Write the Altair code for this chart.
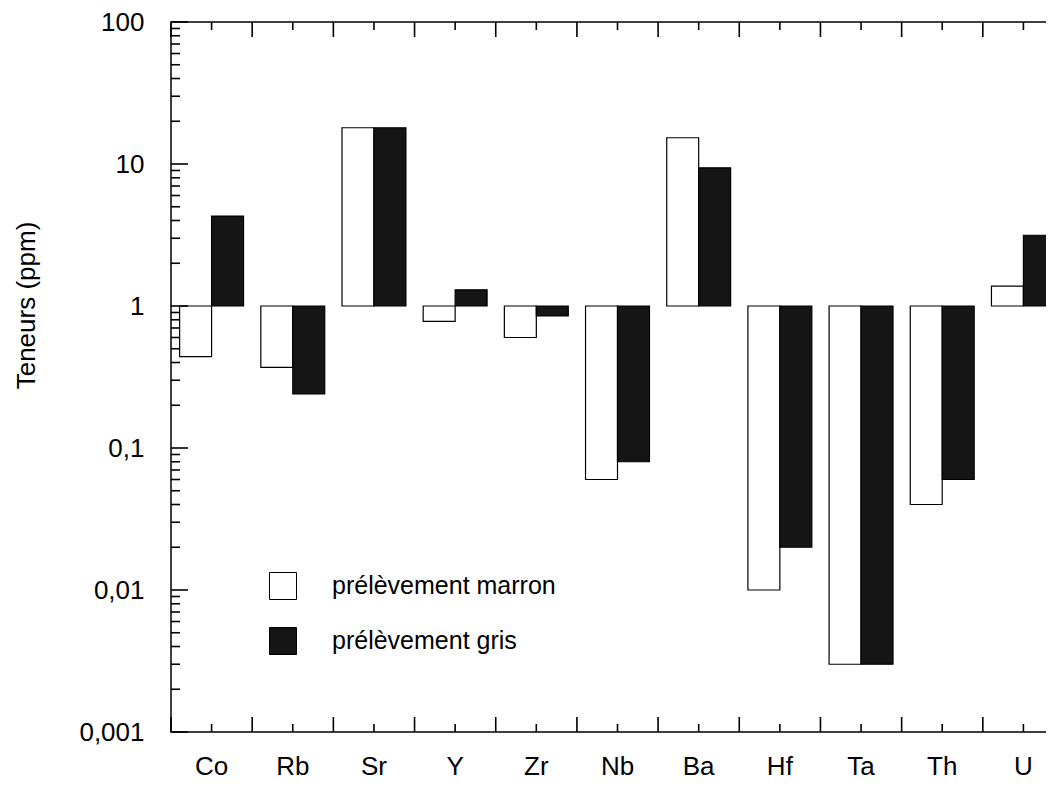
import math
import altair as alt
import pandas as pd

# ---- data ----
elements = ["Co", "Rb", "Sr", "Y", "Zr", "Nb", "Ba", "Hf", "Ta", "Th", "U"]
marron = [0.44, 0.37, 18.0, 0.78, 0.60, 0.060, 15.3, 0.010, 0.003, 0.040, 1.38]
gris = [4.3, 0.24, 18.0, 1.30, 0.85, 0.080, 9.4, 0.020, 0.003, 0.060, 3.15]
series = ["prélèvement marron", "prélèvement gris"]
colors = ["white", "#151515"]
y_ticks = [0.001, 0.01, 0.1, 1, 10, 100]
y_tick_labels = ["0,001", "0,01", "0,1", "1", "10", "100"]
y_minor = [m * d for d in y_ticks[:-1] for m in range(2, 10)]

rows = []
for i, el in enumerate(elements):
    rows.append({"element": el, "series": series[0], "value": marron[i]})
    rows.append({"element": el, "series": series[1], "value": gris[i]})
df = pd.DataFrame(rows)
cat_df = pd.DataFrame({"element": elements})
major_df = pd.DataFrame({"value": y_ticks})
minor_df = pd.DataFrame({"value": y_minor})

W, H = 893, 710
FONT = "Liberation Sans"

# label expression built from the tick label list
expr = "''"
for v, lab in zip(y_ticks, y_tick_labels):
    expr = f"(abs(log(datum.value)/log(10) - ({math.log10(v):.0f})) < 0.01 ? '{lab}' : {expr})"

xscale = alt.Scale(paddingInner=0, paddingOuter=0)
yscale = alt.Scale(type="log", domain=[0.001, 100], nice=False)

bars = alt.Chart(df).mark_bar(stroke="black", strokeWidth=1.2).encode(
    x=alt.X("element:N", sort=elements, scale=xscale,
            axis=alt.Axis(orient="bottom", ticks=False, tickSize=0, domain=False,
                          labelPadding=21, labelFontSize=26, labelAngle=0,
                          title=None, grid=False)),
    xOffset=alt.XOffset("series:N", sort=series,
                        scale=alt.Scale(paddingInner=0, paddingOuter=0.27)),
    y=alt.Y("value:Q", scale=yscale,
            axis=alt.Axis(orient="left", values=y_ticks, labelExpr=expr,
                          ticks=False, tickSize=0, domain=False, grid=False,
                          labelPadding=27, labelFontSize=26,
                          title="Teneurs (ppm)", titleX=-145, titleY=283,
                          titleAngle=270, titleAlign="center",
                          titleBaseline="middle", titleFontSize=26,
                          titleFontWeight="normal")),
    y2=alt.datum(1),
    fill=alt.Fill("series:N", sort=series,
                  scale=alt.Scale(domain=series, range=colors),
                  legend=alt.Legend(title=None, orient="none", legendX=98,
                                    legendY=550, symbolType="square",
                                    symbolSize=729, symbolStrokeColor="black",
                                    symbolStrokeWidth=1, labelFontSize=25,
                                    labelOffset=35, rowPadding=23, padding=0,
                                    labelLimit=0, labelFont=FONT)),
)

TW = 1.6


def ytick(data, x0, x1):
    return alt.Chart(data).mark_rule(color="black", strokeWidth=TW).encode(
        y=alt.Y("value:Q", axis=None),
        x=alt.value(x0), x2=alt.value(x1),
    )


def xtick(band_pos, y0, y1):
    return alt.Chart(cat_df).mark_rule(color="black", strokeWidth=TW).encode(
        x=alt.X("element:N", sort=elements, bandPosition=band_pos, axis=None),
        y=alt.value(y0), y2=alt.value(y1),
    )


layers = [
    bars,
    ytick(major_df, 0, 17), ytick(minor_df, 0, 9),
    ytick(major_df, W, W - 13), ytick(minor_df, W, W - 7),
    xtick(0, H, H - 15), xtick(0.5, H, H - 8),
    xtick(0, 0, 15), xtick(0.5, 0, 8),
]

chart = alt.layer(*layers).resolve_axis(x="independent", y="independent").properties(
    width=W, height=H,
    autosize=alt.AutoSizeParams(type="none"),
    padding={"left": 163, "top": 14, "right": -18, "bottom": 52},
).configure_view(stroke="black", strokeWidth=1.5).configure_axis(
    labelFont=FONT, titleFont=FONT, labelColor="black", titleColor="black"
).configure_legend(labelFont=FONT, labelColor="black")

chart.save("out.html", embed_options={"renderer": "svg", "actions": False})
